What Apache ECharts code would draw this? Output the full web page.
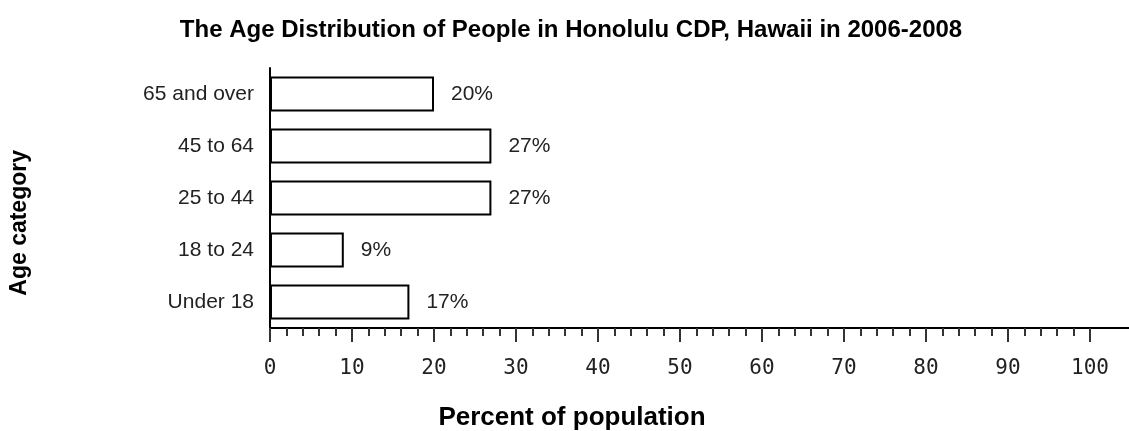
<!DOCTYPE html>
<html>
<head>
<meta charset="utf-8">
<script src="https://cdn.jsdelivr.net/npm/echarts@6/dist/echarts.min.js"></script>
<style>html,body{margin:0;padding:0;background:#fff;}#c{width:1129px;height:431px;}</style>
</head>
<body>
<div id="c"></div>
<script>
var categories = ['Under 18', '18 to 24', '25 to 44', '45 to 64', '65 and over'];
var values = [17, 9, 27, 27, 20];
var xTicks = [0, 10, 20, 30, 40, 50, 60, 70, 80, 90, 100];

var chart = echarts.init(document.getElementById('c'));
var F = 'Liberation Sans, Arial, sans-serif';
chart.setOption({
  animation: false,
  backgroundColor: '#fff',
  title: [
    { text: 'The Age Distribution of People in Honolulu CDP, Hawaii in 2006-2008',
      left: 566, textAlign: 'center', top: 13,
      textStyle: { fontFamily: F, fontSize: 24, fontWeight: 'bold', color: '#000' } },
    { text: 'Percent of population', left: 567, textAlign: 'center', top: 400,
      textStyle: { fontFamily: F, fontSize: 26, fontWeight: 'bold', color: '#000' } }
  ],
  graphic: [{
    type: 'text', left: 8, top: 150, rotation: Math.PI / 2,
    style: { text: 'Age category', font: 'bold 23px Liberation Sans, Arial, sans-serif', fill: '#000' }
  }],
  grid: [
    { left: 270, right: 39, top: 68, bottom: 103 },
    { left: 270, right: 0, top: 68, bottom: 103 }
  ],
  xAxis: [{
    type: 'value', gridIndex: 0, min: xTicks[0], max: xTicks[xTicks.length - 1], interval: 10,
    axisLine: { show: true, lineStyle: { color: '#000', width: 2 } },
    axisTick: { show: true, length: 14, lineStyle: { color: '#333', width: 2 } },
    minorTick: { show: true, splitNumber: 5, length: 8, lineStyle: { color: '#333', width: 2 } },
    splitLine: { show: false },
    axisLabel: { margin: 30, fontFamily: 'DejaVu Sans Mono, monospace', fontSize: 21, color: '#222' }
  }, {
    type: 'value', gridIndex: 1, min: 0, max: 1,
    axisLine: { show: true, lineStyle: { color: '#000', width: 2 } },
    axisTick: { show: false }, axisLabel: { show: false }, splitLine: { show: false }
  }],
  yAxis: [{
    type: 'category', gridIndex: 0, data: categories,
    axisLine: { show: true, lineStyle: { color: '#000', width: 2 } },
    axisTick: { show: false },
    axisLabel: { margin: 16, fontFamily: F, fontSize: 21, color: '#222' }
  }, {
    type: 'value', gridIndex: 1, show: false
  }],
  series: [{
    type: 'bar', data: values, barWidth: 35, xAxisIndex: 0, yAxisIndex: 0,
    itemStyle: { color: '#fff', borderColor: '#000', borderWidth: 2 },
    label: { show: true, position: 'right', distance: 17, formatter: '{c}%',
      fontFamily: F, fontSize: 21, color: '#222' }
  }]
});
</script>
</body>
</html>
